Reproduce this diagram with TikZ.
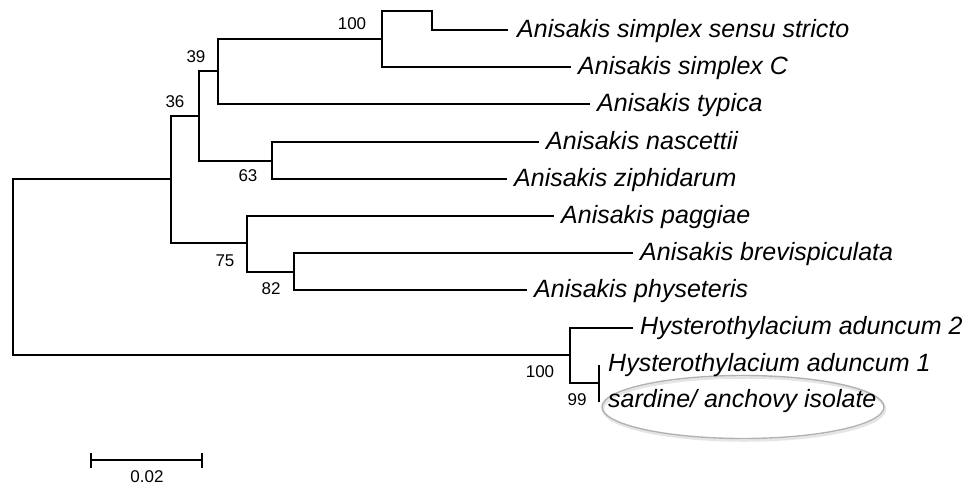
\documentclass[tikz,border=0pt]{standalone}
\usepackage{fontspec}
\setmainfont{Liberation Sans}
\usetikzlibrary{positioning, arrows.meta}

\begin{document}
\begin{tikzpicture}[x=1pt, y=-1pt]
            % Define styles for branches and labels
            \tikzstyle{branch} = [line width=2.4pt]
            \tikzstyle{taxon} = [anchor=base west, inner sep=0pt, font=\fontsize{25}{30}\selectfont\itshape]
            \tikzstyle{boot} = [inner sep=0pt, font=\fontsize{17}{20}\selectfont]

            \useasboundingbox (0,0) rectangle (967,485);

            % Internal nodes of the tree
            \coordinate (root) at (13,267);
            \coordinate (nA) at (171,179);
            \coordinate (nB) at (199,116);
            \coordinate (nC) at (247,243);
            \coordinate (nD) at (218,71);
            \coordinate (nE) at (272,161);
            \coordinate (nF) at (382,39);
            \coordinate (nG) at (432,11);
            \coordinate (nI) at (294,272);
            \coordinate (nH) at (570,355);
            \coordinate (nJ) at (599,383);

            % Tips
            \coordinate (tSS) at (508,30);
            \coordinate (tSC) at (571,67);
            \coordinate (tTyp) at (590,104);
            \coordinate (tNas) at (539,142);
            \coordinate (tZip) at (507,179);
            \coordinate (tPag) at (554,216);
            \coordinate (tBre) at (633,253);
            \coordinate (tPhy) at (527,290);
            \coordinate (tHy2) at (633,328);
            \coordinate (tHy1) at (599,365);
            \coordinate (tSar) at (599,402);

            % Ellipse round the isolate
            \draw [black!10, line width=2.5pt] (744,409) ellipse [x radius=141pt, y radius=31.5pt];
            \draw [black!30, line width=1.4pt] (743,407) ellipse [x radius=141pt, y radius=31.5pt];

            % Branches
            \draw [branch] (root) |- (nA);
            \draw [branch] (root) |- (nH);
            \draw [branch] (nA) |- (nB);
            \draw [branch] (nA) |- (nC);
            \draw [branch] (nB) |- (nD);
            \draw [branch] (nB) |- (nE);
            \draw [branch] (nD) |- (nF);
            \draw [branch] (nD) |- (tTyp);
            \draw [branch] (nF) |- (nG) |- (tSS);
            \draw [branch] (nF) |- (tSC);
            \draw [branch] (nE) |- (tNas);
            \draw [branch] (nE) |- (tZip);
            \draw [branch] (nC) |- (tPag);
            \draw [branch] (nC) |- (nI);
            \draw [branch] (nI) |- (tBre);
            \draw [branch] (nI) |- (tPhy);
            \draw [branch] (nH) |- (tHy2);
            \draw [branch] (nH) |- (nJ);
            \draw [branch] (nJ) |- (tHy1);
            \draw [branch] (nJ) |- (tSar);

            % Taxon names
            \node [taxon] (lSS) at ([xshift=9pt, yshift=-7pt]tSS) {Anisakis simplex sensu stricto};
            \node [taxon] (lSC) at ([xshift=7pt, yshift=-7pt]tSC) {Anisakis simplex C};
            \node [taxon] (lTyp) at ([xshift=7pt, yshift=-7pt]tTyp) {Anisakis typica};
            \node [taxon] (lNas) at ([xshift=7pt, yshift=-7pt]tNas) {Anisakis nascettii};
            \node [taxon] (lZip) at ([xshift=7pt, yshift=-7pt]tZip) {Anisakis ziphidarum};
            \node [taxon] (lPag) at ([xshift=7pt, yshift=-7pt]tPag) {Anisakis paggiae};
            \node [taxon] (lBre) at ([xshift=7pt, yshift=-7pt]tBre) {Anisakis brevispiculata};
            \node [taxon] (lPhy) at ([xshift=7pt, yshift=-7pt]tPhy) {Anisakis physeteris};
            \node [taxon] (lHy2) at ([xshift=7pt, yshift=-6pt]tHy2) {Hysterothylacium aduncum 2};
            \node [taxon] (lHy1) at ([xshift=9pt, yshift=-6pt]tHy1) {Hysterothylacium aduncum 1};
            \node [taxon] (lSar) at ([xshift=9pt, yshift=-5pt]tSar) {sardine/ anchovy isolate};

            % Bootstrap values
            \node [boot] (b100a) at (352,24) {100};
            \node [boot] (b39) at (196,57) {39};
            \node [boot] (b36) at (175,102) {36};
            \node [boot] (b63) at (248,176) {63};
            \node [boot] (b75) at (225,261) {75};
            \node [boot] (b82) at (271,289) {82};
            \node [boot] (b100b) at (540,372) {100};
            \node [boot] (b99) at (577,400) {99};

            % Scale bar
            \coordinate (sbL) at (90,460);
            \coordinate (sbR) at (203,460);
            \draw [branch, {Bar[width=15pt]}-{Bar[width=15pt]}] (sbL) -- (sbR);
            \node [boot] (scale) at (147,477) {0.02};
        \end{tikzpicture}
\end{document}
